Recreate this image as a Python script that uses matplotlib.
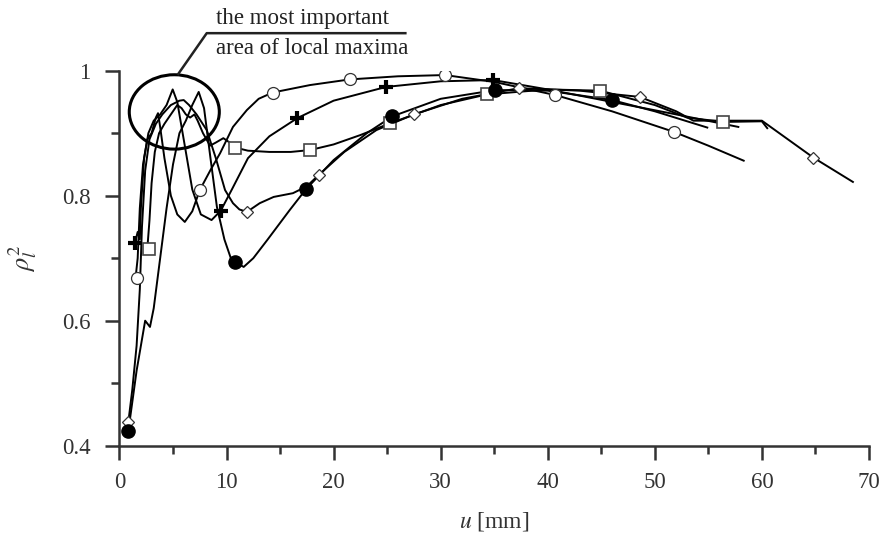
import numpy as np
import matplotlib
matplotlib.use("Agg")
import matplotlib.pyplot as plt
from matplotlib.patches import Ellipse

plt.rcParams['font.family'] = ['Liberation Serif', 'DejaVu Serif']
plt.rcParams['mathtext.fontset'] = 'stix'

# ---- data: displacement u [mm] and rho_l^2 ----
# open circles
circ_u = [1.5, 1.7, 1.9, 2.2, 2.6, 3.0, 3.4, 3.6, 3.8, 4.2, 4.8, 5.4, 6.1, 6.8, 7.5,
          8.5, 9.4, 10.6, 11.9, 13.0, 14.3, 17.8, 21.5, 26.0, 30.4, 35.0, 40.7,
          46.0, 51.8, 55.0, 58.3]
circ_r = [0.668, 0.700, 0.780, 0.850, 0.890, 0.900, 0.925, 0.932, 0.910, 0.860, 0.800,
          0.770, 0.758, 0.775, 0.809, 0.841, 0.868, 0.910, 0.937, 0.955, 0.965, 0.977,
          0.986, 0.991, 0.993, 0.982, 0.961, 0.935, 0.902, 0.880, 0.856]
circ_mu = [1.6, 7.5, 14.3, 21.5, 30.4, 40.7, 51.8]
circ_mr = [0.668, 0.809, 0.965, 0.986, 0.993, 0.961, 0.902]

# plus
plus_u = [1.45, 1.7, 1.9, 2.0, 2.3, 2.7, 3.2, 3.8, 4.4, 4.97, 5.4, 6.0, 6.8, 7.6, 8.6,
          9.46, 10.5, 12.0, 14.0, 16.6, 20.0, 24.9, 30.0, 34.9, 40.0, 46.0, 52.0, 57.8]
plus_r = [0.725, 0.742, 0.730, 0.780, 0.860, 0.900, 0.920, 0.930, 0.945, 0.970, 0.950,
          0.890, 0.810, 0.770, 0.761, 0.776, 0.810, 0.860, 0.895, 0.924, 0.952, 0.974,
          0.983, 0.985, 0.970, 0.950, 0.930, 0.910]
plus_mu = [1.45, 9.46, 16.6, 24.9, 34.9]
plus_mr = [0.725, 0.776, 0.924, 0.974, 0.985]

# filled circles
fill_u = [0.83, 1.2, 1.6, 2.0, 2.4, 2.85, 3.2, 3.8, 4.4, 5.0, 5.6, 6.2, 6.8, 7.4, 7.9,
          8.5, 9.1, 9.8, 10.4, 10.8, 11.6, 12.5, 13.8, 15.9, 17.4, 20.0, 23.1, 25.5,
          30.0, 35.1, 40.0, 46.0, 50.0, 54.9]
fill_r = [0.424, 0.470, 0.520, 0.560, 0.600, 0.590, 0.620, 0.700, 0.780, 0.850, 0.900,
          0.920, 0.945, 0.966, 0.940, 0.860, 0.782, 0.730, 0.700, 0.694, 0.686, 0.700,
          0.729, 0.777, 0.810, 0.857, 0.900, 0.927, 0.955, 0.969, 0.968, 0.953, 0.935,
          0.909]
fill_mu = [0.83, 10.8, 17.4, 25.5, 35.1, 46.0]
fill_mr = [0.424, 0.694, 0.810, 0.927, 0.969, 0.953]

# diamonds
diam_u = [0.83, 1.2, 1.6, 1.9, 2.1, 2.4, 2.8, 3.4, 4.0, 4.8, 5.6, 6.0, 6.5, 7.2, 8.15,
          9.0, 9.86, 10.6, 11.2, 11.9, 13.1, 14.4, 16.2, 17.5, 18.6, 21.0, 24.0, 27.5,
          32.0, 37.3, 43.0, 48.6, 52.0, 53.6, 60.0, 64.8, 68.5]
diam_r = [0.438, 0.490, 0.560, 0.650, 0.750, 0.840, 0.890, 0.915, 0.930, 0.945, 0.952,
          0.953, 0.945, 0.930, 0.905, 0.860, 0.809, 0.788, 0.778, 0.774, 0.788, 0.798,
          0.804, 0.815, 0.833, 0.870, 0.905, 0.930, 0.955, 0.972, 0.968, 0.958, 0.935,
          0.920, 0.920, 0.861, 0.822]
diam_mu = [0.83, 11.9, 18.6, 27.5, 37.3, 48.6, 64.8]
diam_mr = [0.438, 0.774, 0.833, 0.930, 0.972, 0.958, 0.861]

# squares
sq_u = [2.6, 2.8, 3.0, 3.3, 3.7, 4.2, 4.6, 5.0, 5.4, 5.8, 6.2, 6.6, 7.0, 7.3, 7.8, 8.46,
        9.0, 9.7, 10.3, 10.8, 12.0, 14.0, 16.0, 17.8, 20.0, 22.5, 25.3, 30.0, 34.3,
        40.0, 44.9, 50.0, 53.0, 56.4, 60.0, 60.5]
sq_r = [0.715, 0.760, 0.820, 0.870, 0.900, 0.915, 0.925, 0.935, 0.945, 0.940, 0.930,
        0.925, 0.930, 0.920, 0.900, 0.880, 0.885, 0.892, 0.885, 0.877, 0.872, 0.870,
        0.870, 0.873, 0.882, 0.897, 0.916, 0.945, 0.962, 0.970, 0.968, 0.945, 0.925,
        0.918, 0.919, 0.908]
sq_mu = [2.76, 10.8, 17.8, 25.3, 34.3, 44.9, 56.4]
sq_mr = [0.715, 0.877, 0.873, 0.916, 0.962, 0.968, 0.918]

x_ticks = [0, 10, 20, 30, 40, 50, 60, 70]
y_ticks = [0.4, 0.6, 0.8, 1.0]
y_labels = ['0.4', '0.6', '0.8', '1']

# ---- figure ----
fig = plt.figure(figsize=(8.83, 5.33), dpi=100)
ax = fig.add_axes([0.1353, 0.1638, 0.8488, 0.7036])

lc = 'black'
for u, r in [(circ_u, circ_r), (plus_u, plus_r), (fill_u, fill_r),
             (diam_u, diam_r), (sq_u, sq_r)]:
    ax.plot(u, r, color=lc, lw=1.4, zorder=2)

ax.plot(circ_mu, circ_mr, ls='none', marker='o', ms=8.6, mfc='white', mec='#333333',
        mew=0.9, zorder=3)
ax.plot(sq_mu, sq_mr, ls='none', marker='s', ms=8.4, mfc='white', mec='#444444',
        mew=1.2, zorder=3)
ax.plot(diam_mu, diam_mr, ls='none', marker='D', ms=6.2, mfc='white', mec='#333333',
        mew=0.9, zorder=3)
ax.plot(fill_mu, fill_mr, ls='none', marker='o', ms=9.5, mfc='black', mec='black',
        zorder=3)
ax.plot(plus_mu, plus_mr, ls='none', marker='+', ms=10, mec='black', mew=3.0, zorder=3)

# annotation: ellipse round the peaks and leader to the text
ax.add_patch(Ellipse((5.12, 0.934), 8.41, 0.119, fill=False, ec='black', lw=2.2,
                     zorder=4))
ax.plot([5.5, 8.15, 26.7], [0.995, 1.060, 1.060], color='#222222', lw=1.8,
        clip_on=False, zorder=4)
ax.text(9.0, 1.083, 'the most important', fontsize=16.5, color='#222222',
        ha='left', va='center', clip_on=False)
ax.text(9.0, 1.035, 'area of local maxima', fontsize=16.5, color='#222222',
        ha='left', va='center', clip_on=False)

# axes styling
ax.set_xlim(0, 70)
ax.set_ylim(0.4, 1.0)
for s in ['top', 'right']:
    ax.spines[s].set_visible(False)
for s in ['left', 'bottom']:
    ax.spines[s].set_linewidth(1.8)
    ax.spines[s].set_color('#333333')

ax.set_xticks(x_ticks)
ax.set_xticks(np.arange(5, 70, 10), minor=True)
ax.set_yticks(y_ticks)
ax.set_yticklabels(y_labels)
ax.set_yticks([0.5, 0.7, 0.9], minor=True)
ax.tick_params(axis='both', which='major', direction='out', length=10, width=1.8,
               color='#333333', labelsize=16.5, labelcolor='#333333')
ax.tick_params(axis='x', which='major', pad=9)
ax.tick_params(axis='y', which='major', pad=11)
ax.tick_params(axis='both', which='minor', direction='out', length=5.5, width=1.8,
               color='#333333')

ax.set_xlabel('$u$ [mm]', fontsize=17, color='#333333', labelpad=12)
ax.set_ylabel(r'$\rho_l^2$', fontsize=19, color='#333333', labelpad=16)

fig.savefig('out.png', dpi=100)
